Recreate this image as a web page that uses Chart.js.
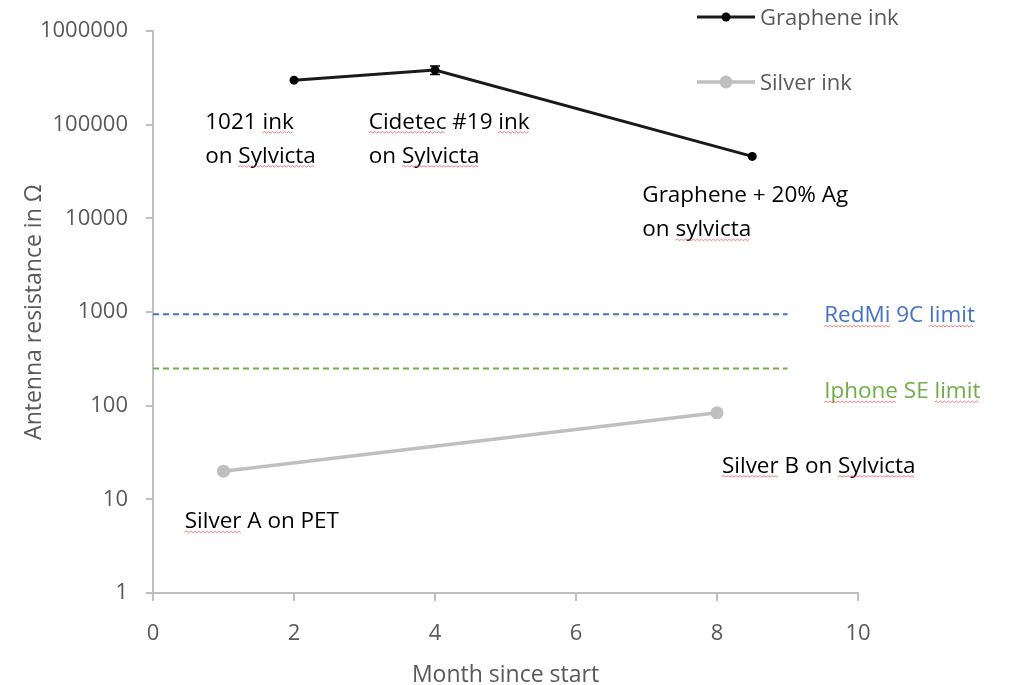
<!DOCTYPE html>
<html>
<head>
<meta charset="utf-8">
<script src="https://cdn.jsdelivr.net/npm/chart.js@4/dist/chart.umd.min.js"></script>
<style>
  html, body { margin: 0; padding: 0; background: #fff; }
  #wrap { width: 1022px; height: 685px; position: relative; }
</style>
</head>
<body>
<div id="wrap"><canvas id="chart"></canvas></div>
<script>
// data
const grapheneMonths = [2, 4, 8.5];
const grapheneOhm = [300000, 385000, 46000];
const grapheneErr = [0, 40000, 0];

const silverMonths = [1, 8];
const silverOhm = [20, 84];

const limitMonths = [0, 9];
const redmiLimit = 950;
const iphoneLimit = 250;

const yTicks = [1, 10, 100, 1000, 10000, 100000, 1000000];
const xTicks = [0, 2, 4, 6, 8, 10];

const FONT = "'Open Sans', sans-serif";
const GREY = '#595959';
const AXIS = '#BFBFBF';

// text notes placed in data coordinates, squiggle = spell-check underlined words
const notes = [
  { x: 0.74, y: 111000, lines: ['1021 ink', 'on Sylvicta'], color: '#000', squiggle: ['ink', 'Sylvicta'] },
  { x: 3.06, y: 111000, lines: ['Cidetec #19 ink', 'on Sylvicta'], color: '#000', squiggle: ['Cidetec', 'ink', 'Sylvicta'] },
  { x: 6.94, y: 18200, lines: ['Graphene + 20% Ag', 'on sylvicta'], color: '#000', squiggle: ['sylvicta'] },
  { x: 9.52, y: 944, lines: ['RedMi 9C limit'], color: '#4472C4', squiggle: ['RedMi', 'limit'] },
  { x: 9.52, y: 147, lines: ['Iphone SE limit'], color: '#70AD47', squiggle: ['Iphone', 'limit'] },
  { x: 8.07, y: 23.5, lines: ['Silver B on Sylvicta'], color: '#000', squiggle: ['Silver', 'Sylvicta'] },
  { x: 0.45, y: 6.0, lines: ['Silver A on PET'], color: '#000', squiggle: ['Silver'] }
];

const toPoints = (xs, ys) => xs.map((x, i) => ({ x, y: ys[i] }));

function squiggle(ctx, x0, x1, y) {
  ctx.save();
  ctx.strokeStyle = 'rgba(230,70,70,0.7)';
  ctx.lineWidth = 1;
  ctx.beginPath();
  let up = true;
  ctx.moveTo(x0, y);
  for (let x = x0 + 2; x <= x1; x += 2) {
    ctx.lineTo(x, up ? y - 1 : y + 0.5);
    up = !up;
  }
  ctx.stroke();
  ctx.restore();
}

const extras = {
  id: 'extras',
  afterDatasetsDraw(chart) {
    const { ctx, scales: { x, y } } = chart;
    // error bars on graphene
    ctx.save();
    ctx.strokeStyle = '#000';
    ctx.lineWidth = 1.5;
    grapheneMonths.forEach((m, i) => {
      const e = grapheneErr[i];
      if (!e) return;
      const px = x.getPixelForValue(m);
      const top = y.getPixelForValue(grapheneOhm[i] + e);
      const bot = y.getPixelForValue(grapheneOhm[i] - e);
      ctx.beginPath();
      ctx.moveTo(px, top); ctx.lineTo(px, bot);
      ctx.moveTo(px - 5, top); ctx.lineTo(px + 5, top);
      ctx.moveTo(px - 5, bot); ctx.lineTo(px + 5, bot);
      ctx.stroke();
    });
    ctx.restore();
  },
  afterDraw(chart) {
    const { ctx, scales: { x, y } } = chart;
    ctx.save();
    ctx.font = `22.5px ${FONT}`;
    ctx.textBaseline = 'alphabetic';
    ctx.textAlign = 'left';
    const space = ctx.measureText(' ').width;
    notes.forEach(n => {
      const left = x.getPixelForValue(n.x);
      const mid = y.getPixelForValue(n.y);
      n.lines.forEach((line, li) => {
        const base = mid + 8 + li * 34;
        let cx = left;
        line.split(' ').forEach(word => {
          const w = ctx.measureText(word).width;
          ctx.fillStyle = n.color;
          ctx.fillText(word, cx, base);
          if (n.squiggle.includes(word)) squiggle(ctx, cx, cx + w, base + 4);
          cx += w + space;
        });
      });
    });

    // legend, top right
    ctx.font = `22px ${FONT}`;
    const items = chart.data.datasets.filter(d => d.inLegend);
    items.forEach((d, i) => {
      const ly = 17 + i * 65;
      ctx.strokeStyle = d.borderColor;
      ctx.lineWidth = d.borderWidth;
      ctx.beginPath();
      ctx.moveTo(697, ly); ctx.lineTo(755, ly);
      ctx.stroke();
      ctx.fillStyle = d.pointBackgroundColor;
      ctx.beginPath();
      ctx.arc(726, ly, d.pointRadius, 0, Math.PI * 2);
      ctx.fill();
      ctx.fillStyle = GREY;
      ctx.textBaseline = 'middle';
      ctx.fillText(d.label, 760, ly + 2);
    });
    ctx.restore();
  }
};

new Chart(document.getElementById('chart'), {
  type: 'line',
  data: {
    datasets: [
      {
        label: 'Graphene ink',
        inLegend: true,
        data: toPoints(grapheneMonths, grapheneOhm),
        borderColor: '#1a1a1a',
        borderWidth: 3,
        pointRadius: 4.5,
        pointBackgroundColor: '#000',
        pointBorderWidth: 0
      },
      {
        label: 'Silver ink',
        inLegend: true,
        data: toPoints(silverMonths, silverOhm),
        borderColor: '#BFBFBF',
        borderWidth: 3.5,
        pointRadius: 6.5,
        pointBackgroundColor: '#BFBFBF',
        pointBorderWidth: 0
      },
      {
        label: 'RedMi 9C limit',
        data: toPoints(limitMonths, limitMonths.map(() => redmiLimit)),
        borderColor: '#4472C4',
        borderWidth: 2,
        borderDash: [6, 4],
        pointRadius: 0
      },
      {
        label: 'Iphone SE limit',
        data: toPoints(limitMonths, limitMonths.map(() => iphoneLimit)),
        borderColor: '#70AD47',
        borderWidth: 2,
        borderDash: [6, 4],
        pointRadius: 0
      }
    ]
  },
  options: {
    responsive: true,
    maintainAspectRatio: false,
    animation: false,
    layout: { padding: { left: 0, top: 28, right: 164, bottom: 0 } },
    plugins: {
      legend: { display: false },
      tooltip: { enabled: false }
    },
    scales: {
      x: {
        type: 'linear',
        min: 0,
        max: 10,
        afterBuildTicks: s => { s.ticks = xTicks.map(v => ({ value: v })); },
        afterFit: s => { s.height = 92; },
        grid: { drawOnChartArea: false, drawTicks: true, tickLength: 8, color: AXIS, lineWidth: 2 },
        border: { color: AXIS, width: 2 },
        ticks: { color: GREY, font: { family: FONT, size: 22 }, padding: 20 },
        title: { display: true, text: 'Month since start', color: GREY, font: { family: FONT, size: 23 }, padding: { top: 0, bottom: -4 } }
      },
      y: {
        type: 'logarithmic',
        min: 1,
        max: 1000000,
        afterBuildTicks: s => { s.ticks = yTicks.map(v => ({ value: v })); },
        afterFit: s => { s.width = 153; },
        grid: { drawOnChartArea: false, drawTicks: true, tickLength: 7, color: AXIS, lineWidth: 2 },
        border: { color: AXIS, width: 2 },
        ticks: { color: GREY, font: { family: FONT, size: 22 }, padding: 18, callback: v => String(v) },
        title: { display: true, text: 'Antenna resistance in Ω', color: GREY, font: { family: FONT, size: 23 }, padding: { top: 21, bottom: 0 } }
      }
    }
  },
  plugins: [extras]
});
</script>
</body>
</html>
